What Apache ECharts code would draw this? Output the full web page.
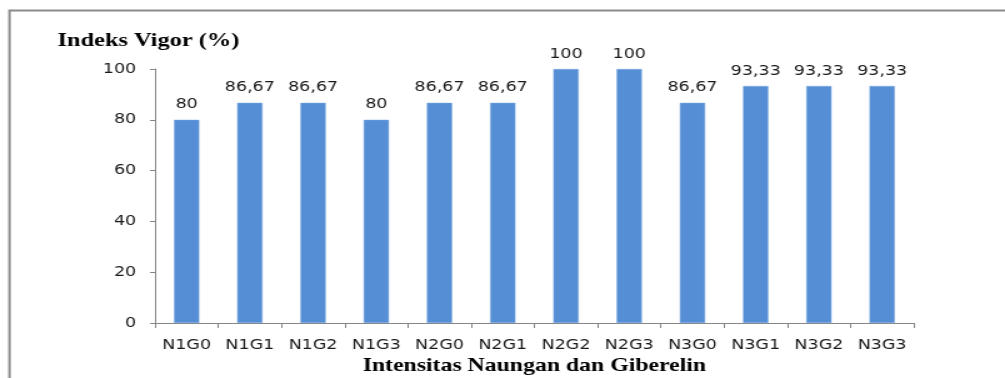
<!DOCTYPE html>
<html>
<head>
<meta charset="utf-8">
<script src="https://cdn.jsdelivr.net/npm/echarts@6/dist/echarts.min.js"></script>
<style>
  html, body { margin: 0; padding: 0; background: #fff; overflow: hidden; }
  /* chart is laid out narrower and widened horizontally to fill the frame */
  #chart { width: 804px; height: 378px; transform: scaleX(1.25); transform-origin: 0 0; }
</style>
</head>
<body>
<div id="chart"></div>
<script>
// Treatment combinations (shade intensity N x gibberellin G)
const categories = ['N1G0', 'N1G1', 'N1G2', 'N1G3', 'N2G0', 'N2G1', 'N2G2', 'N2G3', 'N3G0', 'N3G1', 'N3G2', 'N3G3'];
// Vigor index (%) per treatment
const vigorValues = [80, 86.67, 86.67, 80, 86.67, 86.67, 100, 100, 86.67, 93.33, 93.33, 93.33];
// Value-axis ticks
const yTicks = [0, 20, 40, 60, 80, 100];

const labelFont = "'DejaVu Sans', Verdana, sans-serif";
const titleFont = "'Liberation Serif', 'Times New Roman', serif";

const fmt = v => String(v).replace('.', ',');

const chart = echarts.init(document.getElementById('chart'));
chart.setOption({
  animation: false,
  backgroundColor: '#fff',
  graphic: [{
    type: 'rect',
    shape: { x: 7.6, y: 10.5, width: 1100, height: 500 },
    style: { fill: 'none', stroke: '#8c8c8c', lineWidth: 2 },
    silent: true
  }],
  title: {
    text: 'Indeks Vigor (%)',
    left: 41, top: 26,
    textStyle: { fontFamily: titleFont, fontWeight: 'bold', fontSize: 19.5, color: '#000' }
  },
  grid: { left: 124, right: 73, top: 69, bottom: 55, containLabel: false, outerBoundsMode: 'none' },
  xAxis: {
    type: 'category',
    data: categories,
    name: 'Intensitas Naungan dan Giberelin',
    nameLocation: 'middle',
    nameGap: 34,
    nameTextStyle: { fontFamily: titleFont, fontWeight: 'bold', fontSize: 19, color: '#000' },
    axisLine: { lineStyle: { color: '#868686', width: 1 } },
    axisTick: { show: true, length: 5, interval: 0, lineStyle: { color: '#868686' } },
    axisLabel: { interval: 0, fontFamily: labelFont, fontSize: 14, color: '#1a1a1a', margin: 15 }
  },
  yAxis: {
    type: 'value',
    min: yTicks[0],
    max: yTicks[yTicks.length - 1],
    interval: yTicks[1] - yTicks[0],
    axisLine: { show: true, lineStyle: { color: '#868686', width: 1 } },
    axisTick: { show: true, length: 4, lineStyle: { color: '#868686' } },
    splitLine: { show: false },
    axisLabel: { fontFamily: labelFont, fontSize: 14, color: '#1a1a1a', margin: 15 }
  },
  series: [{
    type: 'bar',
    data: vigorValues,
    barWidth: '40%',
    itemStyle: { color: '#558ed5', borderColor: '#7aa9e0', borderWidth: 0.5 },
    label: {
      show: true,
      position: 'top',
      distance: 8,
      formatter: p => fmt(p.value),
      fontFamily: labelFont,
      fontSize: 14,
      color: '#1a1a1a'
    }
  }]
});
</script>
</body>
</html>
